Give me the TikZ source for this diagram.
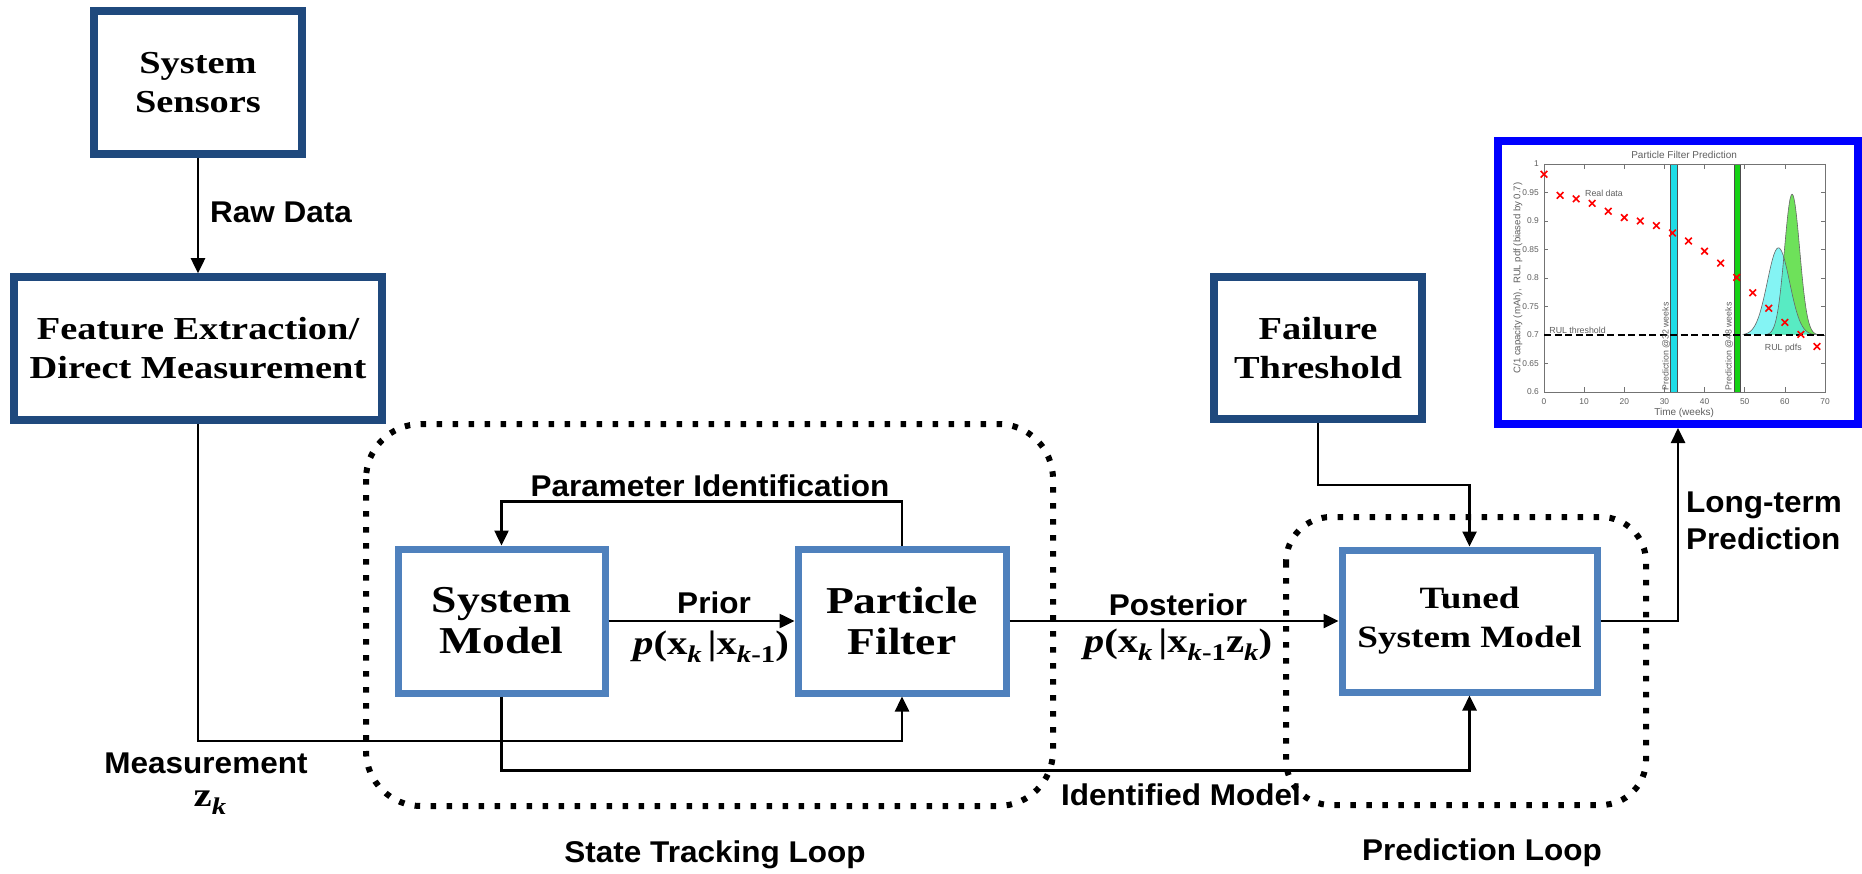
\documentclass[tikz,border=0pt]{standalone}
\usepackage{fontspec}
\setmainfont{Liberation Serif}
\newfontfamily\boxfont[FakeStretch=1.2]{Liberation Serif}
\newfontfamily\lblfont[FakeStretch=1.05]{Liberation Sans}
\newfontfamily\chartfont{Liberation Sans}
\usetikzlibrary{arrows.meta}
\definecolor{darkbox}{RGB}{31,73,125}
\definecolor{lightbox}{RGB}{79,129,189}
\definecolor{frameblue}{RGB}{0,0,255}
\definecolor{pdfcyan}{RGB}{80,240,240}
\definecolor{pdfgreen}{RGB}{110,225,90}
\definecolor{barcyan}{RGB}{30,220,230}
\definecolor{bargreen}{RGB}{20,210,20}
\definecolor{chartgray}{RGB}{95,95,95}
\newcommand{\sbx}[1]{\raisebox{-8pt}{\fontsize{24}{24}\selectfont #1}}
\begin{document}
\begin{tikzpicture}[x=1pt,y=-1pt,
  outerbox/.style={draw=darkbox, line width=7.5pt, fill=white, inner sep=0pt, align=center,
    font=\boxfont\bfseries\fontsize{32}{39}\selectfont},
  innerbox/.style={draw=lightbox, line width=7pt, fill=white, inner sep=0pt, align=center},
  lbl/.style={font=\lblfont\bfseries\fontsize{30}{37}\selectfont, inner sep=0pt},
  mathlbl/.style={font=\boxfont\bfseries\fontsize{34}{40}\selectfont, inner sep=0pt},
  arr/.style={line width=2.5pt, -{Triangle[length=15pt,width=14pt]}},
  loopline/.style={line width=6pt, dash pattern=on 5.5pt off 10.5pt},
  ctext/.style={font=\chartfont\fontsize{8.8}{10}\selectfont, text=chartgray, inner sep=0pt},
  tlab/.style={font=\chartfont\fontsize{8.4}{9}\selectfont, text=chartgray, inner sep=0pt},
  axl/.style={draw=black!55, line width=0.6pt},
]
\fill[white] (0,0) rectangle (1862,874);
\useasboundingbox (0,0) rectangle (1862,874);

% boxes
\node[outerbox, minimum width=208pt, minimum height=143pt] (sensors) at (198,82.5) {System\\Sensors};
\node[outerbox, minimum width=368pt, minimum height=143pt] (feature) at (198,348.5) {Feature Extraction/\\Direct Measurement};
\node[outerbox, minimum width=208pt, minimum height=142pt] (failure) at (1318,348) {Failure\\Threshold};
\node[innerbox, minimum width=207pt, minimum height=144pt,
      font=\boxfont\bfseries\fontsize{38}{41}\selectfont] (sm) at (501.5,621) {System\\Model};
\node[innerbox, minimum width=208pt, minimum height=144pt,
      font=\boxfont\bfseries\fontsize{38}{41}\selectfont] (pf) at (902,621) {Particle\\Filter};
\node[innerbox, minimum width=255pt, minimum height=142pt,
      font=\boxfont\bfseries\fontsize{31}{39}\selectfont] (tuned) at (1469.5,621) {Tuned\\System Model};
\node[draw=frameblue, fill=white, line width=8pt, inner sep=0pt,
      minimum width=360pt, minimum height=283pt] (chart) at (1678,282.5) {};

% chart content
\begin{scope}[xshift=1544pt, yshift=-734pt, x=4.014pt, y=570pt]
  \filldraw[fill=barcyan, draw=black!70, line width=0.6pt] (31.4,0.6) rectangle (33.1,1);
  \filldraw[fill=bargreen, draw=black!70, line width=0.6pt] (47.3,0.6) rectangle (49.0,1);
  \fill[pdfgreen] plot[domain=55:68, samples=60, smooth] (\x,{0.7+0.247*exp(-((\x-61.8)^2)/7.2)}) -- cycle;
  \fill[pdfcyan, fill opacity=0.7] plot[domain=49.5:68, samples=60, smooth] (\x,{0.7+0.153*exp(-((\x-58.4)^2)/15.5)}) -- cycle;
  \draw[black!60, line width=0.6pt] plot[domain=55:68, samples=60, smooth] (\x,{0.7+0.247*exp(-((\x-61.8)^2)/7.2)});
  \draw[black!60, line width=0.6pt] plot[domain=49.5:68, samples=60, smooth] (\x,{0.7+0.153*exp(-((\x-58.4)^2)/15.5)});
  \draw[axl] (0,0.6) rectangle (70,1);
  \foreach \tk in {0,10,...,70} {
    \draw[axl] (\tk,0.6) -- ++(0,0.008);
    \draw[axl] (\tk,1) -- ++(0,-0.008);
    \node[tlab] at (\tk,0.5825) {\tk};
  }
  \foreach \vv/\lab in {0.6/0.6,0.65/0.65,0.7/0.7,0.75/0.75,0.8/0.8,0.85/0.85,0.9/0.9,0.95/0.95,1/1} {
    \draw[axl] (0,\vv) -- ++(0.9,0);
    \draw[axl] (70,\vv) -- ++(-0.9,0);
    \node[tlab, anchor=east] at (-1.25,\vv) {\lab};
  }
  \draw[black, line width=2.2pt, dash pattern=on 7pt off 3.5pt] (0,0.7) -- (70,0.7);
  \foreach \w/\vv in {0/0.982,4/0.945,8/0.939,12/0.931,16/0.917,20/0.906,24/0.900,28/0.892,32/0.879,36/0.865,40/0.847,44/0.826,48/0.801,52/0.774,56/0.747,60/0.722,64/0.701,68/0.680}
    \draw[red, line width=1.6pt] (\w,\vv) ++(-3.3pt,-3.3pt) -- ++(6.6pt,6.6pt) ++(-6.6pt,0pt) -- ++(6.6pt,-6.6pt);
  \node[ctext, font=\chartfont\fontsize{10}{12}\selectfont] at (34.9,1.016) {Particle Filter Prediction};
  \node[ctext, anchor=west] at (10.2,0.949) {Real data};
  \node[ctext, anchor=west] at (1.3,0.708) {RUL threshold};
  \node[ctext, anchor=west] at (55,0.677) {RUL pdfs};
  \node[ctext, rotate=90, anchor=west] at (30.4,0.603) {Prediction @32 weeks};
  \node[ctext, rotate=90, anchor=west] at (46.1,0.603) {Prediction @48 weeks};
  \node[ctext, font=\chartfont\fontsize{10}{12}\selectfont] at (34.9,0.563) {Time (weeks)};
  \node[ctext, font=\chartfont\fontsize{9.6}{12}\selectfont, rotate=90] at (-6.5,0.8) {C/1 capacity (mAh), \ RUL pdf (biased by 0.7)};
\end{scope}

% connectors
\draw[arr] (sensors.south) -- (feature.north);
\draw[arr] (feature.south) -- ++(0,317) -| (pf.south);
\draw[arr] (pf.north) -- ++(0,-44) -| (sm.north);
\draw[arr] (sm.east) -- (pf.west);
\draw[arr] (pf.east) -- (tuned.west);
\draw[arr] (sm.south) -- ++(0,74) -| (tuned.south);
\draw[arr] (failure.south) -- ++(0,62) -| (tuned.north);
\draw[arr] (tuned.east) -| (chart.south);

% loops
\draw[loopline, rounded corners=55pt] (366,424) rectangle (1053,806);
\draw[loopline, rounded corners=45pt] (1286,517) rectangle (1646,805);

% labels
\node[lbl, anchor=west] (rawlbl) at (210,212) {Raw Data};
\node[lbl, anchor=base] (paramlbl) at (710,496) {Parameter Identification};
\node[lbl] (priorlbl) at (714,603) {Prior};
\node[mathlbl] (priorp) at (711,647) {\textit{p}(x\sbx{\textit{k}}\,|x\sbx{\textit{k}-1})};
\node[lbl] (postlbl) at (1178,605) {Posterior};
\node[mathlbl] (postp) at (1178,645) {\textit{p}(x\sbx{\textit{k}}\,|x\sbx{\textit{k}-1}z\sbx{\textit{k}})};
\node[lbl] (measlbl) at (206,763) {Measurement};
\node[mathlbl] (zk) at (210,803) {z\sbx{\textit{k}}};
\node[lbl] (identlbl) at (1181,795) {Identified Model};
\node[lbl] (stlbl) at (715,855) {State Tracking Loop};
\node[lbl] (pllbl) at (1482,853) {Prediction Loop};
\node[lbl, anchor=west, align=left] (ltlbl) at (1686,521) {Long-term\\Prediction};
\end{tikzpicture}
\end{document}
